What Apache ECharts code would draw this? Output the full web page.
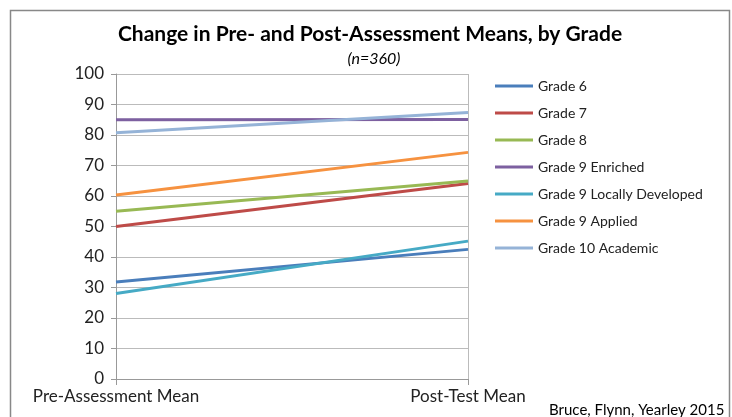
<!DOCTYPE html>
<html><head><meta charset="utf-8">
<script src="https://cdn.jsdelivr.net/npm/echarts@6/dist/echarts.min.js"></script>
<style>html,body{margin:0;padding:0;background:#fff}#c{width:732px;height:417px}</style>
</head><body><div id="c"></div>
<script>
var categories = ['Pre-Assessment Mean', 'Post-Test Mean'];
var seriesNames = ['Grade 6','Grade 7','Grade 8','Grade 9 Enriched','Grade 9 Locally Developed','Grade 9 Applied','Grade 10 Academic'];
var grade6 = [31.8, 42.5];
var grade7 = [50.0, 64.1];
var grade8 = [55.0, 64.9];
var grade9Enriched = [85.0, 85.1];
var grade9Local = [28.0, 45.2];
var grade9Applied = [60.3, 74.3];
var grade10Academic = [80.7, 87.4];
var yTicks = [0,10,20,30,40,50,60,70,80,90,100];
var colors = ['#4A7EBB','#BE4B48','#98B954','#7D60A0','#46AAC5','#F69240','#95B3D7'];
var allData = [grade6, grade7, grade8, grade9Enriched, grade9Local, grade9Applied, grade10Academic];
var FONT = 'Lato, "Open Sans", sans-serif';
var chart = echarts.init(document.getElementById('c'));
chart.setOption({
  animation:false,
  color: colors,
  title: [
    {text:'Change in Pre- and Post-Assessment Means, by Grade', left:365, top:19, textAlign:'center',
     textStyle:{fontFamily:FONT,fontWeight:'bold',fontSize:21,color:'#000'}},
    {text:'(n=360)', left:369, top:46, textAlign:'center',
     textStyle:{fontFamily:FONT,fontStyle:'italic',fontWeight:'normal',fontSize:16,color:'#000'}}
  ],
  graphic:[
    {type:'rect', shape:{x:10.5,y:10.5,width:719,height:420}, style:{fill:'none',stroke:'#888',lineWidth:1.5}, silent:true},
    {type:'text', left:549, top:403, style:{text:'Bruce, Flynn, Yearley 2015', font:'15px '+FONT, fill:'#000'}}
  ],
  legend:{
    orient:'vertical', left:490, top:74, itemGap:13, itemWidth:38, itemHeight:14,
    icon:'path://M0,6 L38,6 L38,9 L0,9 Z',
    textStyle:{fontFamily:FONT,fontSize:14,color:'#222'},
    data: seriesNames
  },
  grid:{left:116, right:264, top:74, bottom:38},
  xAxis:{
    type:'category', data:categories, boundaryGap:false,
    axisLine:{lineStyle:{color:'#999'}},
    axisTick:{show:true,length:6,lineStyle:{color:'#999'}},
    splitLine:{show:true,lineStyle:{color:'#bbb'}},
    axisLabel:{fontFamily:FONT,fontSize:17,color:'#222',margin:9}
  },
  yAxis:{
    type:'value', min:0, max:100, interval:10,
    axisLine:{show:true,lineStyle:{color:'#999'}},
    axisTick:{show:true,length:5,lineStyle:{color:'#999'}},
    splitLine:{lineStyle:{color:'#bbb'}},
    axisLabel:{fontFamily:FONT,fontSize:17,color:'#222',margin:12,
      formatter:function(v){return yTicks.indexOf(v)>=0?String(v):'';}}
  },
  series: seriesNames.map(function(n,i){
    return {name:n,type:'line',data:allData[i],symbol:'none',lineStyle:{width:3,color:colors[i]},itemStyle:{color:colors[i]}};
  })
});
</script></body></html>
